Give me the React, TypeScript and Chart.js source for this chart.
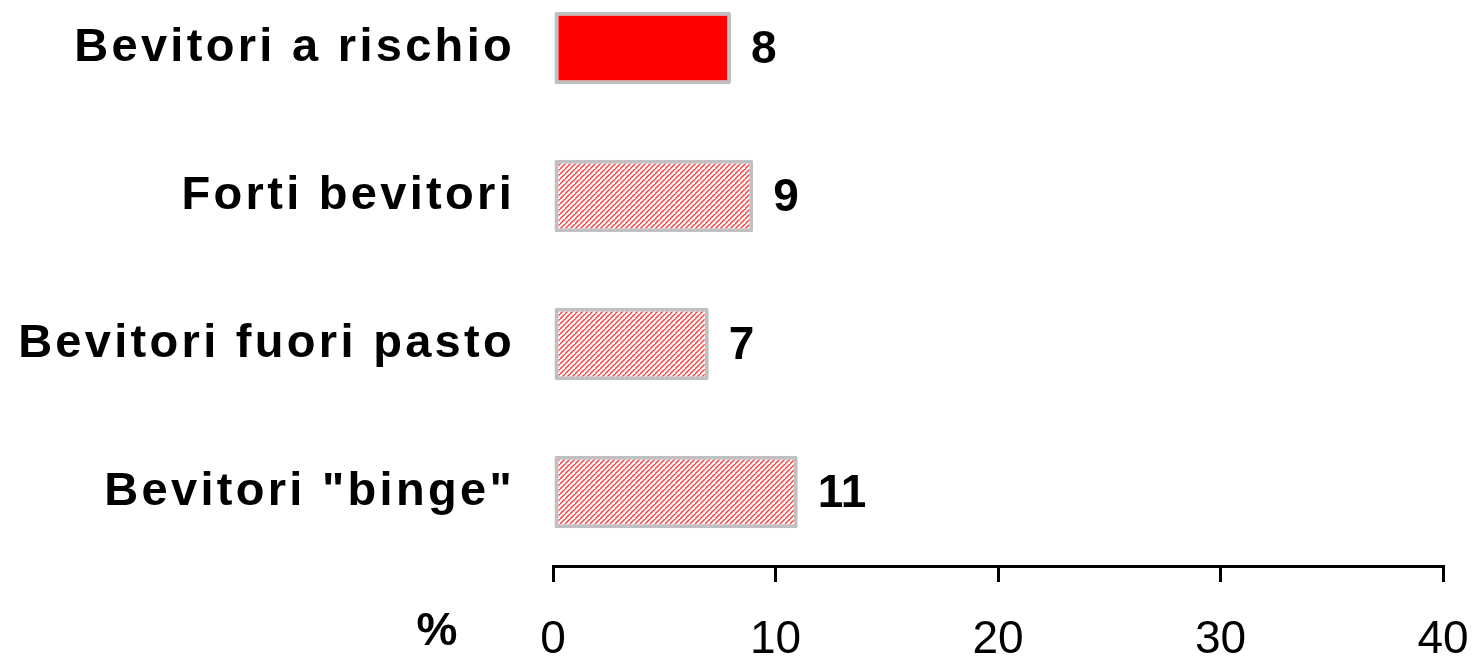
import React, { useEffect, useRef } from "react";
import { Chart, registerables } from "chart.js";

Chart.register(...registerables);

const categories: string[] = [
  "Bevitori a rischio",
  "Forti bevitori",
  "Bevitori fuori pasto",
  'Bevitori "binge"',
];
const values: number[] = [8, 9, 7, 11];
const hatched: boolean[] = [false, true, true, true];
const xMin = 0;
const xMax = 40;
const xStep = 10;
const unitLabel = "%";

const FONT = '"Liberation Sans", Arial, sans-serif';

function makeHatch(): CanvasPattern | string {
  const c = document.createElement("canvas");
  const s = 5;
  c.width = s;
  c.height = s;
  const g = c.getContext("2d");
  if (!g) return "#ff8080";
  g.fillStyle = "#ffffff";
  g.fillRect(0, 0, s, s);
  g.strokeStyle = "#ff3838";
  g.lineWidth = 1.4;
  g.beginPath();
  g.moveTo(-1, s + 1);
  g.lineTo(s + 1, -1);
  g.moveTo(-1 - s, s + 1);
  g.lineTo(1, -1);
  g.moveTo(s - 1, 2 * s + 1);
  g.lineTo(2 * s + 1, s - 1);
  g.stroke();
  const p = g.createPattern(c, "repeat");
  return p || "#ff8080";
}

export default function App() {
  const ref = useRef<HTMLCanvasElement | null>(null);

  useEffect(() => {
    const canvas = ref.current;
    if (!canvas) return;
    const hatch = makeHatch();
    const bg = hatched.map((h) => (h ? hatch : "#ff0000"));

    const extras = {
      id: "extras",
      beforeDraw(chart: any) {
        const ys = chart.scales.y;
        if (ys && !ys.__ls) {
          const orig = ys.drawLabels.bind(ys);
          ys.drawLabels = (area: any) => {
            const ctx = chart.ctx;
            ctx.save();
            (ctx as any).letterSpacing = "3.3px";
            orig(area);
            ctx.restore();
          };
          ys.__ls = true;
        }
      },
      afterDatasetsDraw(chart: any) {
        const ctx = chart.ctx;
        const meta = chart.getDatasetMeta(0);
        ctx.save();
        ctx.fillStyle = "#000000";
        ctx.font = `bold 46px ${FONT}`;
        ctx.textAlign = "left";
        ctx.textBaseline = "middle";
        meta.data.forEach((el: any, i: number) => {
          ctx.fillText(String(values[i]), el.x + 20, el.y + 2);
        });
        ctx.restore();
      },
      afterDraw(chart: any) {
        const ctx = chart.ctx;
        const area = chart.chartArea;
        ctx.save();
        ctx.fillStyle = "#000000";
        ctx.font = `bold 46px ${FONT}`;
        ctx.textAlign = "center";
        ctx.textBaseline = "middle";
        ctx.fillText(unitLabel, area.left - 116, area.bottom + 66);
        ctx.restore();
      },
    };

    const chart = new Chart(canvas, {
      type: "bar",
      data: {
        labels: categories,
        datasets: [
          {
            data: values,
            backgroundColor: bg as any,
            borderColor: "#c0c0c0",
            borderWidth: 4,
            borderSkipped: false,
            borderRadius: 2,
            categoryPercentage: 1,
            barPercentage: 0.49,
          },
        ],
      },
      options: {
        indexAxis: "y",
        responsive: false,
        animation: false,
        layout: { padding: { left: 0, right: 36, top: 0, bottom: 0 } },
        plugins: {
          legend: { display: false },
          tooltip: { enabled: false },
          title: { display: false },
        },
        scales: {
          x: {
            type: "linear",
            position: "bottom",
            min: xMin,
            max: xMax,
            afterFit: (s: any) => {
              s.height = 95;
              s.paddingLeft = 0;
              s.paddingRight = 0;
            },
            border: { display: true, color: "#000000", width: 3 },
            grid: {
              display: true,
              drawOnChartArea: false,
              drawTicks: true,
              tickLength: 16,
              color: "#000000",
              lineWidth: 3,
            },
            ticks: {
              stepSize: xStep,
              color: "#000000",
              padding: 31,
              font: { family: FONT, size: 46 },
              maxRotation: 0,
            },
          },
          y: {
            type: "category",
            afterFit: (s: any) => {
              s.width = 553;
              s.paddingTop = 0;
              s.paddingBottom = 0;
            },
            border: { display: false },
            grid: { display: false, drawTicks: false },
            ticks: {
              color: "#000000",
              padding: 38,
              font: { family: FONT, size: 47, weight: "bold" },
            },
          },
        },
      },
      plugins: [extras],
    });
    return () => chart.destroy();
  }, []);

  return (
    <div
      style={{
        position: "fixed",
        left: 0,
        top: -26,
        width: 1479,
        height: 687,
        background: "#ffffff",
      }}
    >
      <canvas ref={ref} width={1479} height={687} style={{ display: "block" }} />
    </div>
  );
}
